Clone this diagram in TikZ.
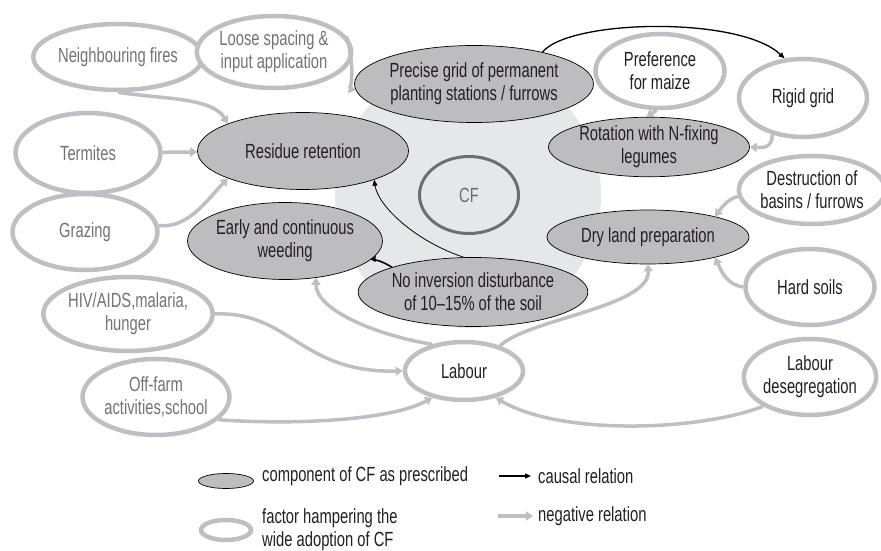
\documentclass[tikz,border=0pt]{standalone}
\usepackage{fontspec}
\setmainfont{Liberation Sans}[FakeStretch=0.72]
\usetikzlibrary{shapes.geometric,arrows.meta}
\begin{document}
\begin{tikzpicture}[x=1pt,y=1pt,
  font=\fontsize{20.5}{23}\selectfont,
  comp/.style={ellipse,draw=black,line width=0.7pt,fill=compColor,text=textColor,align=center,inner sep=0pt},
  factor/.style={ellipse,draw=ringColor,line width=4.5pt,fill=white,text=textColor,align=center,inner sep=0pt},
  factorlight/.style={factor,text=greyText},
  neg/.style={draw=ringColor,line width=3.5pt,-{Triangle[length=7pt,width=9pt]}},
  causal/.style={draw=black,line width=1pt,-{Triangle[length=6pt,width=5pt]}},
  key/.style={anchor=west,inner sep=0pt,align=left,text=textColor}]
\definecolor[named]{compColor}{rgb}{0.74,0.74,0.75}
\definecolor[named]{ringColor}{rgb}{0.74,0.75,0.76}
\definecolor[named]{bgColor}{rgb}{0.90,0.905,0.91}
\definecolor[named]{cfColor}{rgb}{0.43,0.43,0.44}
\definecolor[named]{greyText}{rgb}{0.45,0.45,0.46}
\definecolor[named]{textColor}{rgb}{0.14,0.12,0.13}
\path[use as bounding box,fill=white] (0,0) rectangle (881,551);

\fill[bgColor] (468,356) circle (133);
\node[ellipse,draw=cfColor,line width=3pt,text=cfColor,minimum width=99pt,minimum height=77pt] (cf) at (469,356) {CF};

\node[comp,minimum width=211pt,minimum height=77pt] (grid) at (474,467) {Precise grid of permanent\\planting stations / furrows};
\node[comp,minimum width=211pt,minimum height=77pt] (resid) at (303,400) {Residue retention};
\node[comp,minimum width=201pt,minimum height=52pt] (rot) at (649,404) {Rotation with N-fixing\\legumes};
\node[comp,minimum width=173pt,minimum height=77pt] (weed) at (285,310) {Early and continuous\\weeding};
\node[comp,minimum width=212pt,minimum height=69pt] (noinv) at (473,259) {No inversion disturbance\\of 10--15\% of the soil};
\node[comp,minimum width=202pt,minimum height=54pt] (dry) at (648,314) {Dry land preparation};

\node[factorlight,minimum width=145pt,minimum height=66pt] (fires) at (118,494) {Neighbouring fires};
\node[factorlight,minimum width=147pt,minimum height=72pt] (loose) at (274,499) {Loose spacing \&\\input application};
\node[factorlight,minimum width=145pt,minimum height=80pt] (termites) at (88,398) {Termites};
\node[factorlight,minimum width=145pt,minimum height=76pt] (grazing) at (85,319) {Grazing};
\node[factorlight,minimum width=145pt,minimum height=74pt] (hiv) at (128,237) {HIV/AIDS,malaria,\\hunger};
\node[factorlight,minimum width=147pt,minimum height=76pt] (offfarm) at (156,154) {Off-farm\\activities,school};
\node[factor,minimum width=118pt,minimum height=58pt] (labour) at (464,180) {Labour};
\node[factor,minimum width=131pt,minimum height=76pt] (deseg) at (810,174) {Labour\\desegregation};
\node[factor,minimum width=129pt,minimum height=76pt] (hard) at (810,264) {Hard soils};
\node[factor,minimum width=140pt,minimum height=68pt] (destr) at (812,361) {Destruction of\\basins / furrows};
\node[factor,minimum width=128pt,minimum height=78pt] (rigid) at (803,453) {Rigid grid};
\node[factor,minimum width=129pt,minimum height=74pt] (maize) at (660,480) {Preference\\for maize};

\draw[causal,line width=1.3pt] (grid.25) .. controls (570,532) and (740,535) .. (rigid.115);
\draw[causal,line width=0.8pt] (noinv.105) .. controls (415,310) and (378,345) .. (resid.-22);
\draw[causal,line width=1.6pt] (noinv.163) .. controls (382,290) and (374,292) .. (weed.-9);

\draw[neg] (fires.south) .. controls (160,452) and (212,454) .. (resid.160);
\draw[neg] (loose.12) .. controls (356,478) and (350,462) .. (grid.183);
\draw[neg] (termites) -- (resid);
\draw[neg] (grazing.5) .. controls (188,322) and (208,352) .. (resid.200);
\draw[neg] (maize.265) -- (rot.95);
\draw[neg] (rigid.230) .. controls (772,404) and (765,403) .. (rot.east);
\draw[neg] (destr.185) .. controls (728,352) and (722,344) .. (dry.17);
\draw[neg] (hard.west) .. controls (728,266) and (722,278) .. (dry.-17);
\draw[neg] (labour.35) .. controls (528,232) and (650,244) .. (dry.south);
\draw[neg] (labour.140) .. controls (380,215) and (316,240) .. (weed.-50);
\draw[neg] (hiv.east) .. controls (290,240) and (300,178) .. (labour.west);
\draw[neg] (offfarm.-20) .. controls (290,126) and (390,130) .. (labour.220);
\draw[neg] (deseg.212) .. controls (700,120) and (560,115) .. (labour.-40);

\node[comp,minimum width=55pt,minimum height=15pt] (keycomp) at (226,70) {};
\node[key] (keycomptext) at (262,75) {component of CF as prescribed};
\node[factor,minimum width=50pt,minimum height=20pt] (keyfactor) at (226,21) {};
\node[key] (keyfactortext) at (262,21) {factor hampering the\\wide adoption of CF};
\coordinate (causalstart) at (499,75);
\coordinate (causalend) at (531,75);
\draw[causal,line width=1.3pt] (causalstart) -- (causalend);
\node[key] (causaltext) at (538,75) {causal relation};
\coordinate (negstart) at (498,35);
\coordinate (negend) at (533,35);
\draw[neg] (negstart) -- (negend);
\node[key] (negtext) at (538,35) {negative relation};
\end{tikzpicture}
\end{document}
